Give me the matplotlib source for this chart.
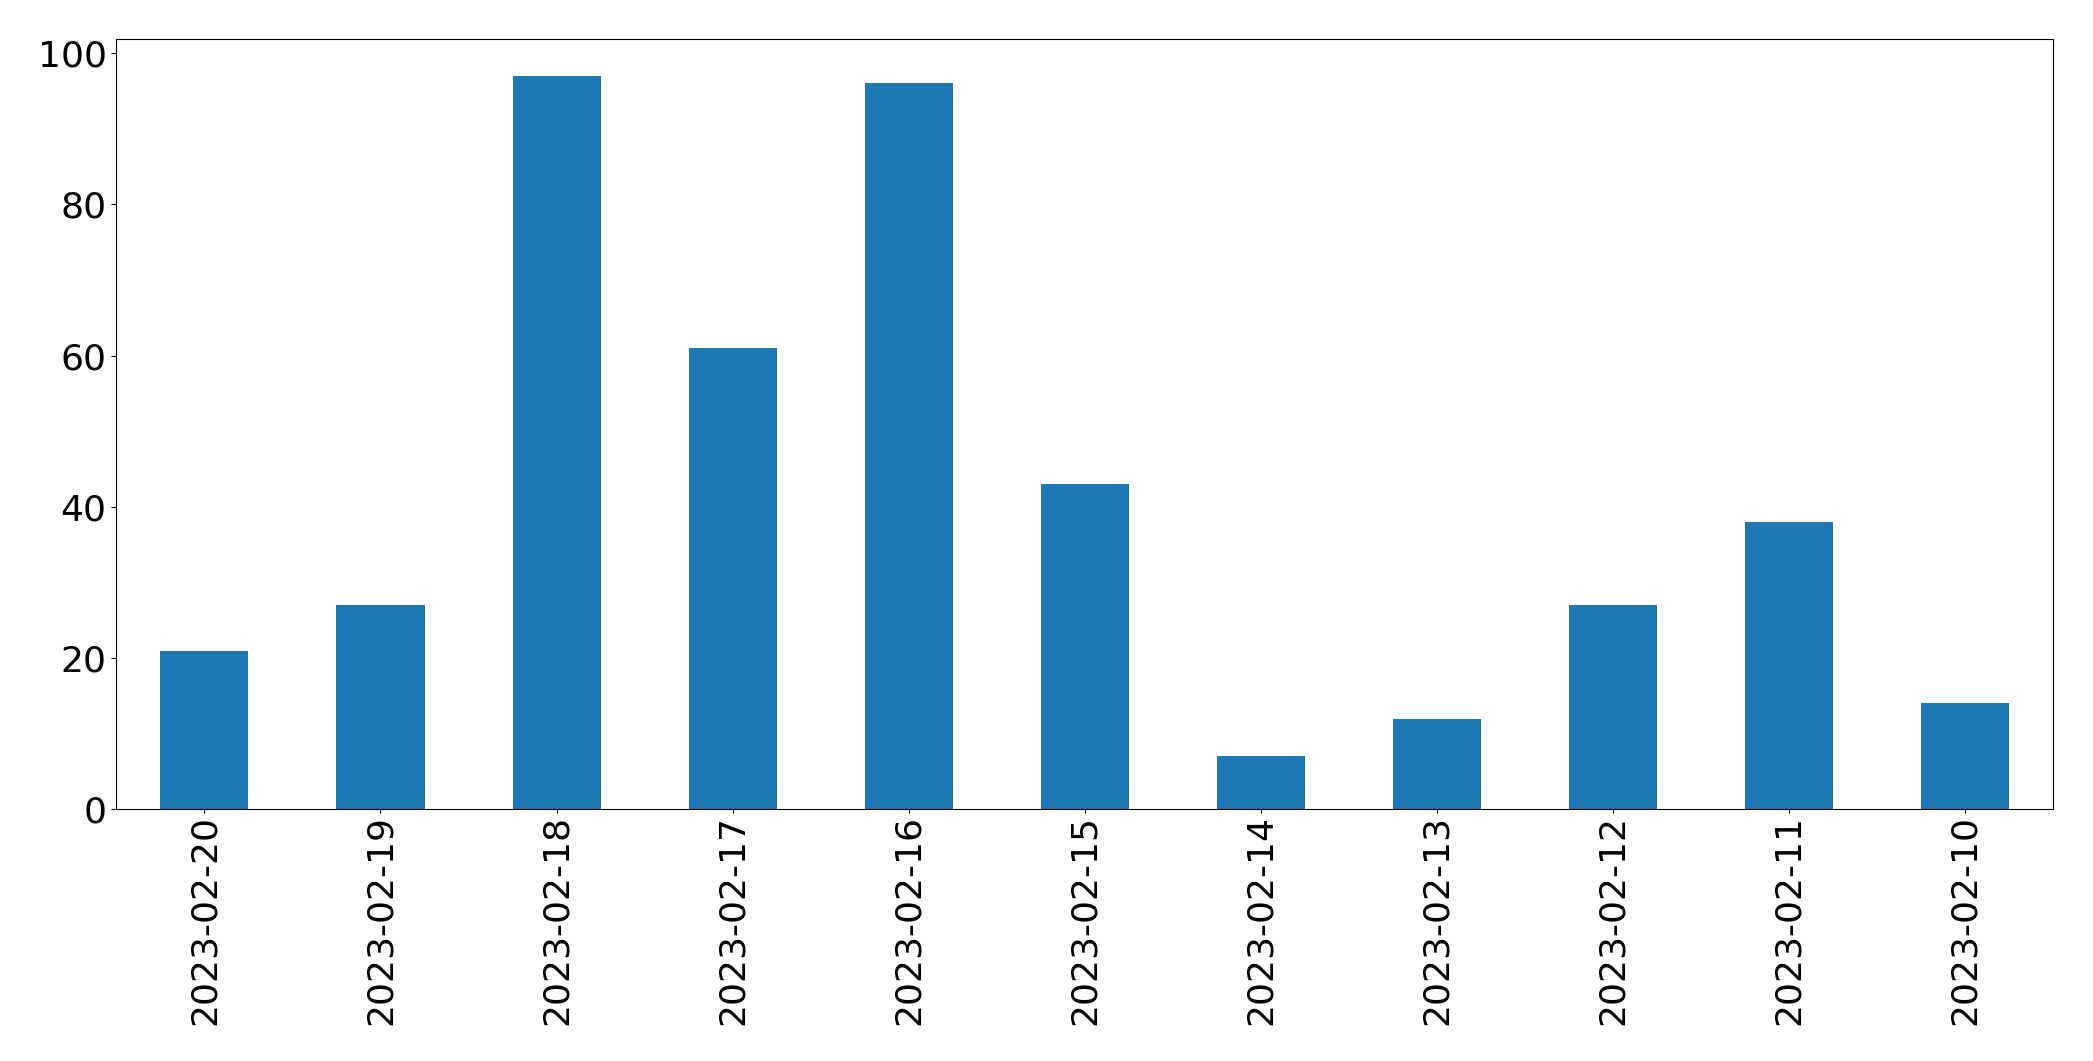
import matplotlib
matplotlib.use("Agg")
import matplotlib.pyplot as plt

dates = ["2023-02-20", "2023-02-19", "2023-02-18", "2023-02-17", "2023-02-16",
         "2023-02-15", "2023-02-14", "2023-02-13", "2023-02-12", "2023-02-11",
         "2023-02-10"]
counts = [21, 27, 97, 61, 96, 43, 7, 12, 27, 38, 14]

fig = plt.figure(figsize=(20.93, 10.61), dpi=100)
ax = fig.add_axes([0.0556, 0.2372, 0.9254, 0.7258])
x = range(len(dates))
ax.bar(x, counts, width=0.5, color="#1f77b4")
ax.set_xlim(-0.5, len(dates) - 0.5)
ax.set_ylim(0, 101.85)
ax.set_xticks(list(x))
ax.set_xticklabels(dates, rotation=90)
ax.tick_params(labelsize=26)
ax.tick_params(axis="x", length=3.0, pad=1.3)
fig.savefig("out.png", dpi=100)
